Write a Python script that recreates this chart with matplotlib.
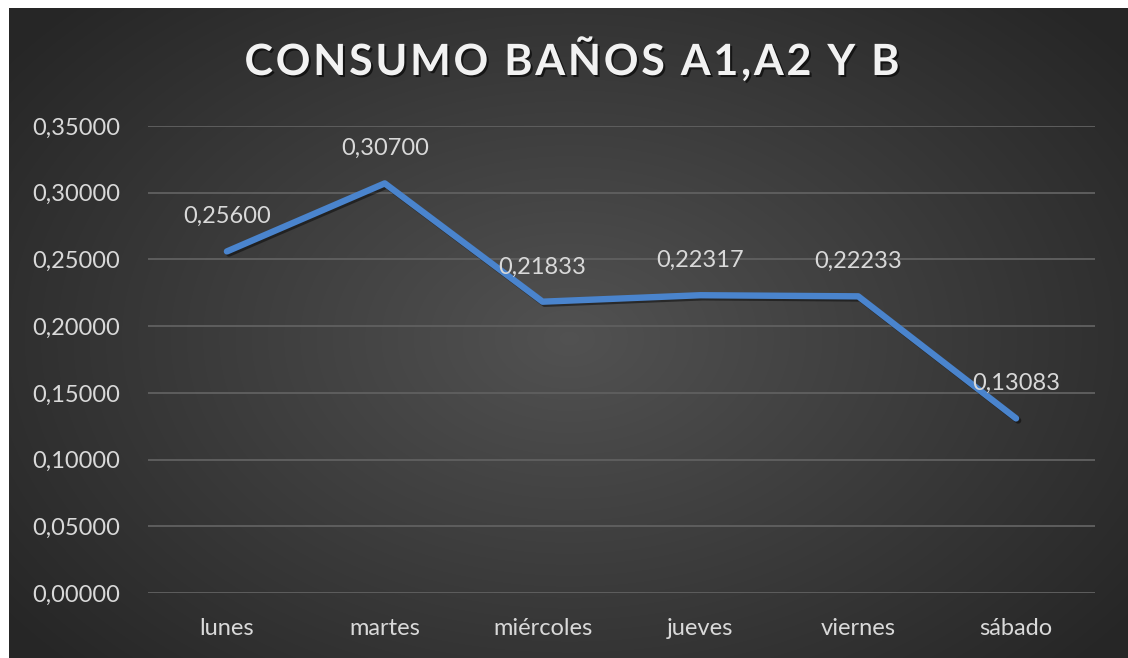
import matplotlib
matplotlib.use("Agg")
import matplotlib.pyplot as plt
import matplotlib.patheffects as pe
import numpy as np
from matplotlib.font_manager import FontProperties
from matplotlib.textpath import TextToPath

# datos del gráfico
dias = ["lunes", "martes", "miércoles", "jueves", "viernes", "sábado"]
consumo = [0.25600, 0.30700, 0.21833, 0.22317, 0.22233, 0.13083]
titulo = "CONSUMO BAÑOS A1,A2 Y B"
y_ticks = [0.0, 0.05, 0.10, 0.15, 0.20, 0.25, 0.30, 0.35]

W, H, DPI = 1128, 658, 100
TXT = "#D9D9D9"
LINE = "#4A84CD"


def fmt(v):
    return f"{v:.5f}".replace(".", ",")


fig = plt.figure(figsize=(W / DPI, H / DPI), dpi=DPI, facecolor="white")

# fondo oscuro con degradado radial (estilo Excel)
bg = fig.add_axes([9 / W, 0, 1 - 9 / W, 1 - 8 / H])
bg.set_axis_off()
yy, xx = np.mgrid[0:650, 0:1119]
r = np.sqrt(((xx - 560) / 620) ** 2 + ((yy - 330) / 420) ** 2)
shade = np.clip(0.32 - 0.15 * r, 0.15, 0.32)
bg.imshow(np.dstack([shade] * 3), aspect="auto", extent=(0, 1, 0, 1))
bg.set_xlim(0, 1)
bg.set_ylim(0, 1)

ax = fig.add_axes([148 / W, 65 / H, (1095 - 148) / W, (593 - 126) / H])
ax.patch.set_alpha(0)
x = np.arange(len(dias))
ax.plot(x, consumo, color=LINE, linewidth=4.6, solid_capstyle="round", solid_joinstyle="round",
        path_effects=[pe.SimpleLineShadow(offset=(1.5, -1.5), shadow_color="black", alpha=0.45), pe.Normal()],
        zorder=3)

for xi, v in zip(x, consumo):
    ax.annotate(fmt(v), (xi, v), xytext=(0, 25), textcoords="offset points",
                ha="center", va="center", color=TXT, fontsize=17, family="Lato", zorder=4)

ax.set_xlim(-0.5, len(dias) - 0.5)
ax.set_ylim(0, 0.35)
ax.set_yticks(y_ticks)
ax.set_yticklabels([fmt(t) for t in y_ticks])
ax.set_xticks(x)
ax.set_xticklabels(dias)
ax.tick_params(axis="both", length=0, colors=TXT, labelsize=17)
ax.tick_params(axis="y", pad=20)
ax.tick_params(axis="x", pad=18)
for lab in ax.get_xticklabels() + ax.get_yticklabels():
    lab.set_family("Lato")
ax.grid(axis="y", color="#5E5E5E", linewidth=1.4)
ax.set_axisbelow(True)
for s in ax.spines.values():
    s.set_visible(False)

# título con espaciado entre letras
fp = FontProperties(family="Lato", weight="bold", size=31)
t2p = TextToPath()
widths = [t2p.get_text_width_height_descent(ch, fp, ismath=False)[0] * DPI / 72 for ch in titulo]
target = 900 - 245
gap = (target - sum(widths)) / (len(titulo) - 1)
xpos = 572 - target / 2
for ch, w in zip(titulo, widths):
    fig.text(xpos / W, 1 - 75 / H, ch, fontproperties=fp, color="#F2F2F2", ha="left", va="baseline",
             path_effects=[pe.withSimplePatchShadow(offset=(1.5, -1.5), shadow_rgbFace="black", alpha=0.6)])
    xpos += w + gap

fig.savefig("out.png", dpi=DPI, facecolor="white")
